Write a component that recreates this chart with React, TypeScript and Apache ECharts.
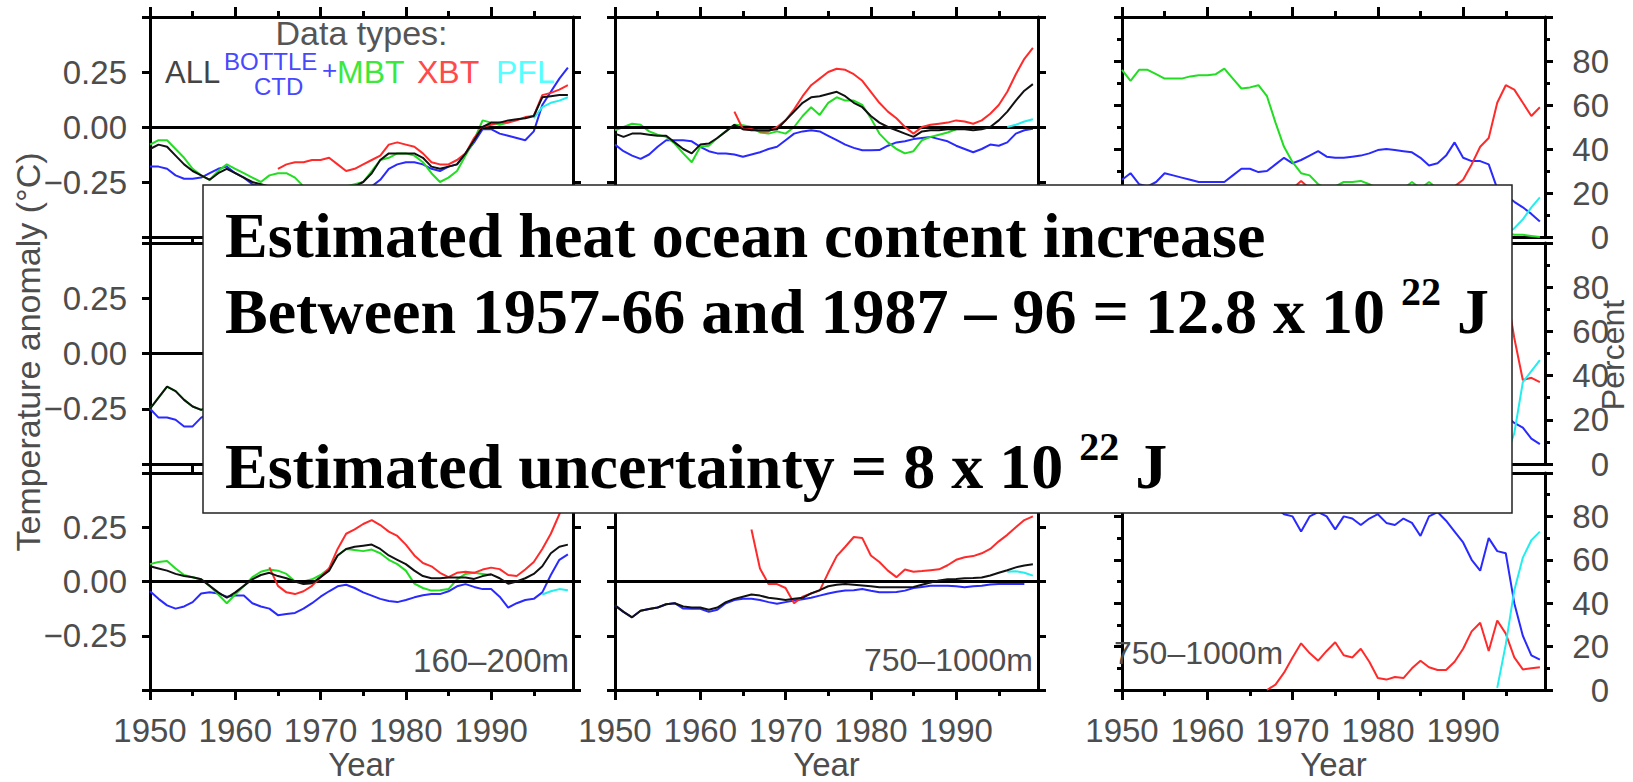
import React, { useEffect, useRef } from 'react';
import * as echarts from 'echarts';

// ---------- axes / tick data ----------
const X_MIN = 1950;
const X_MAX = 1999.6;
const MAJOR_YEARS = [1950, 1960, 1970, 1980, 1990];
const MINOR_YEARS = [1955, 1965, 1975, 1985, 1995];
const TEMP_LABEL_VALUES = [-0.25, 0, 0.25];
const TEMP_LABEL_TEXT = ['\u22120.25', '0.00', '0.25'];
const PCT_LABEL_VALUES = [0, 20, 40, 60, 80];

// ---------- row 1, col 1 (temperature anomaly) ----------
const p11_all = [-0.10, -0.08, -0.09, -0.13, -0.17, -0.20, -0.22, -0.24, -0.21, -0.19,
  -0.21, -0.23, -0.25, -0.26, -0.27, -0.28, -0.27, -0.28, -0.29, -0.29,
  -0.28, -0.28, -0.27, -0.27, -0.27, -0.25, -0.21, -0.15, -0.12, -0.12,
  -0.12, -0.12, -0.14, -0.18, -0.19, -0.18, -0.17, -0.12, -0.06, 0.00,
  0.02, 0.02, 0.03, 0.035, 0.04, 0.05, 0.135, 0.14, 0.145, 0.145];
const p11_bottle = [-0.18, -0.18, -0.19, -0.22, -0.235, -0.235, -0.23, -0.21, -0.19, -0.18,
  -0.21, -0.23, -0.26, -0.27, -0.28, -0.29, -0.29, -0.30, -0.30, -0.31,
  -0.31, -0.31, -0.30, -0.30, -0.29, -0.28, -0.27, -0.24, -0.19, -0.17,
  -0.16, -0.16, -0.17, -0.19, -0.20, -0.18, -0.17, -0.12, -0.07, -0.01,
  -0.01, -0.03, -0.04, -0.05, -0.06, -0.02, 0.10, 0.16, 0.22, 0.27];
const p11_mbt = [-0.08, -0.06, -0.06, -0.10, -0.14, -0.19, -0.22, -0.24, -0.20, -0.17,
  -0.19, -0.21, -0.23, -0.25, -0.22, -0.21, -0.21, -0.23, -0.27, -0.29,
  -0.30, -0.29, -0.28, -0.27, -0.26, -0.25, -0.20, -0.15, -0.14, -0.12,
  -0.12, -0.13, -0.16, -0.21, -0.25, -0.23, -0.20, -0.13, -0.06, 0.03,
  0.02, 0.01, 0.02];
const p11_xbt_start = 1965;
const p11_xbt = [-0.19, -0.17, -0.16, -0.16, -0.15,
  -0.15, -0.14, -0.17, -0.20, -0.19, -0.17, -0.15, -0.13, -0.08, -0.07,
  -0.08, -0.09, -0.12, -0.16, -0.17, -0.17, -0.15, -0.12, -0.05, 0.00,
  0.01, 0.02, 0.02, 0.03, 0.045, 0.05, 0.145, 0.155, 0.17, 0.19];
const p11_pfl_start = 1995;
const p11_pfl = [0.04, 0.09, 0.11, 0.12, 0.135];

// ---------- row 1, col 2 ----------
const p12_all = [-0.03, -0.045, -0.03, -0.03, -0.035, -0.04, -0.04, -0.07, -0.10, -0.12,
  -0.08, -0.075, -0.05, -0.02, 0.01, -0.01, -0.015, -0.015, -0.015, -0.01,
  0.03, 0.07, 0.11, 0.135, 0.14, 0.15, 0.16, 0.14, 0.11, 0.09,
  0.05, 0.02, 0.00, -0.015, -0.03, -0.045, -0.02, -0.015, -0.015, -0.01,
  -0.01, -0.01, -0.015, -0.01, 0.00, 0.03, 0.07, 0.12, 0.165, 0.195];
const p12_bottle = [-0.08, -0.11, -0.13, -0.145, -0.125, -0.09, -0.06, -0.06, -0.06, -0.065,
  -0.09, -0.11, -0.12, -0.12, -0.125, -0.135, -0.125, -0.115, -0.10, -0.09,
  -0.06, -0.03, -0.02, -0.015, -0.02, -0.04, -0.06, -0.08, -0.095, -0.106,
  -0.106, -0.105, -0.085, -0.07, -0.065, -0.055, -0.05, -0.045, -0.055, -0.065,
  -0.085, -0.10, -0.115, -0.10, -0.08, -0.085, -0.07, -0.03, -0.015, -0.008];
const p12_mbt = [-0.015, 0.00, 0.015, 0.01, -0.02, -0.035, -0.045, -0.075, -0.12, -0.16,
  -0.09, -0.085, -0.05, -0.02, 0.01, 0.008, 0.00, -0.025, -0.03, -0.02,
  -0.03, 0.00, 0.05, 0.09, 0.055, 0.11, 0.135, 0.12, 0.12, 0.10,
  0.04, -0.03, -0.07, -0.10, -0.12, -0.11, -0.06, -0.045, -0.035, -0.025,
  -0.01];
const p12_xbt_start = 1964;
const p12_xbt = [0.07, -0.01, -0.01, -0.02, -0.02, 0.00,
  0.03, 0.08, 0.14, 0.19, 0.22, 0.25, 0.265, 0.26, 0.24, 0.21,
  0.16, 0.11, 0.07, 0.04, 0.00, -0.03, 0.00, 0.01, 0.015, 0.02,
  0.03, 0.025, 0.015, 0.03, 0.06, 0.10, 0.16, 0.24, 0.31, 0.36];
const p12_pfl_start = 1996;
const p12_pfl = [0.00, 0.01, 0.025, 0.035];

// ---------- row 1, col 3 (percent of data types) ----------
const p13_bottle = [26, 29, 24, 23, 25, 29, 28, 27, 26, 25,
  25, 25, 25, 28, 31, 31, 29.5, 30, 33, 36,
  33.5, 35, 37, 39, 36.5, 36, 36, 36.5, 37, 38,
  39.5, 40, 39.5, 39, 38.5, 36, 32.5, 33.5, 37, 43,
  36, 34.5, 34.5, 33, 22, 19, 16, 13.5, 10.5, 7];
const p13_mbt = [76, 71, 76, 76, 74, 72, 72, 72, 73, 73.5,
  73.5, 74, 76.5, 72, 67.5, 68, 69, 64, 52, 41,
  34, 29, 28, 24, 22, 23, 25, 25, 25.5, 24,
  22, 21, 21, 22, 25, 22, 25, 22, 20, 16,
  12, 9, 6, 4, 3, 2, 1, 1, 0.5, 0];
const p13_xbt_start = 1966;
const p13_xbt = [1, 5, 12, 18, 22, 25.5, 22, 20, 21, 20,
  19, 20, 21, 20, 22, 22, 21, 20, 19, 20,
  21, 21, 22, 23, 26, 33, 41, 45, 61, 69,
  67, 61, 55, 59];
const p13_pfl_start = 1994;
const p13_pfl = [0, 1, 4, 8, 13.5, 18];

// ---------- row 2, col 1 ----------
const p21_all = [-0.25, -0.20, -0.15, -0.17, -0.21, -0.24, -0.255, -0.24, -0.22, -0.20,
  -0.21, -0.22, -0.20, -0.18, -0.17, -0.16, -0.17, -0.19, -0.20, -0.18,
  -0.14, -0.10, -0.06, -0.04, -0.03, -0.04, -0.06, -0.08, -0.09, -0.10,
  -0.09, -0.08, -0.09, -0.10, -0.09, -0.07, -0.05, -0.03, -0.02, -0.01,
  0.00, 0.01, 0.00, -0.01, 0.01, 0.04, 0.07, 0.09, 0.10, 0.11];
const p21_bottle = [-0.25, -0.29, -0.29, -0.30, -0.33, -0.33, -0.29, -0.27, -0.26, -0.25,
  -0.27, -0.28, -0.26, -0.24, -0.23, -0.22, -0.23, -0.24, -0.24, -0.22,
  -0.19, -0.16, -0.13, -0.11, -0.11, -0.12, -0.13, -0.14, -0.14, -0.13,
  -0.12, -0.12, -0.13, -0.13, -0.12, -0.10, -0.08, -0.06, -0.05, -0.05,
  -0.05, -0.06, -0.07, -0.06, -0.04, -0.01, 0.03, 0.06, 0.08, 0.09];
const p21_mbt = [-0.25, -0.20, -0.15, -0.17, -0.21, -0.24, -0.255, -0.24, -0.21, -0.19,
  -0.20, -0.21, -0.19, -0.17, -0.16, -0.15, -0.16, -0.18, -0.19, -0.17,
  -0.13, -0.09, -0.05, -0.03, -0.02, -0.03, -0.05, -0.07, -0.08, -0.09,
  -0.08, -0.07, -0.08, -0.10, -0.09, -0.07, -0.04, -0.02, -0.01, 0.00,
  0.01];
const p21_xbt_start = 1967;
const p21_xbt = [-0.10, -0.08, -0.06,
  -0.02, 0.02, 0.06, 0.08, 0.09, 0.07, 0.04, 0.02, 0.00, -0.01,
  -0.02, -0.03, -0.04, -0.05, -0.04, -0.02, 0.00, 0.01, 0.02, 0.03,
  0.04, 0.05, 0.04, 0.03, 0.05, 0.09, 0.13, 0.17, 0.20, 0.22];
const p21_pfl_start = 1995;
const p21_pfl = [0.02, 0.04, 0.05, 0.06, 0.07];

// ---------- row 2, col 2 ----------
const p22_all = [-0.08, -0.10, -0.12, -0.11, -0.10, -0.09, -0.08, -0.09, -0.10, -0.11,
  -0.10, -0.09, -0.08, -0.07, -0.07, -0.08, -0.08, -0.07, -0.06, -0.05,
  -0.04, -0.03, -0.02, -0.02, -0.01, 0.00, 0.00, -0.01, -0.02, -0.02,
  -0.03, -0.03, -0.02, -0.02, -0.01, 0.00, 0.01, 0.02, 0.02, 0.03,
  0.03, 0.03, 0.02, 0.03, 0.04, 0.05, 0.07, 0.08, 0.09, 0.10];
const p22_bottle = [-0.09, -0.11, -0.13, -0.12, -0.11, -0.10, -0.09, -0.10, -0.11, -0.12,
  -0.11, -0.10, -0.09, -0.08, -0.08, -0.09, -0.09, -0.08, -0.08, -0.07,
  -0.06, -0.05, -0.05, -0.04, -0.04, -0.03, -0.03, -0.04, -0.04, -0.05,
  -0.05, -0.05, -0.04, -0.04, -0.03, -0.03, -0.02, -0.02, -0.01, -0.01,
  -0.01, -0.02, -0.02, -0.01, 0.00, 0.01, 0.02, 0.03, 0.03, 0.04];
const p22_xbt_start = 1967;
const p22_xbt = [0.10, 0.02, -0.02, 0.00, 0.03, 0.06, 0.08, 0.10, 0.12, 0.13,
  0.12, 0.10, 0.08, 0.06, 0.04, 0.03, 0.04, 0.05, 0.06, 0.06,
  0.07, 0.08, 0.09, 0.10, 0.11, 0.11, 0.12, 0.14, 0.17, 0.20,
  0.23, 0.25, 0.27];
const p22_pfl_start = 1996;
const p22_pfl = [0.04, 0.05, 0.05, 0.04];

// ---------- row 2, col 3 ----------
const p23_bottle = [72, 70, 74, 71, 69, 73, 70, 68, 71, 69,
  66, 68, 65, 63, 60, 58, 55, 50, 44, 40,
  38, 36, 38, 37, 35, 34, 36, 37, 35, 36,
  38, 37, 36, 38, 37, 35, 34, 35, 37, 38,
  35, 33, 34, 32, 28, 22, 18.6, 16.5, 11.5, 9];
const p23_mbt = [28, 30, 26, 29, 31, 27, 30, 32, 29, 31,
  34, 32, 35, 37, 38, 36, 33, 30, 25, 20,
  15, 10, 7, 5, 3, 2];
const p23_xbt_start = 1966;
const p23_xbt = [2, 8, 16, 24, 30, 34, 38, 40, 44, 46,
  47, 46, 48, 48, 47, 49, 50, 50, 52, 53,
  55, 54, 53, 55, 58, 61, 62, 63, 66, 80,
  57, 38, 39, 37];
const p23_pfl_start = 1994;
const p23_pfl = [0, 3, 14, 37, 42, 47];

// ---------- row 3, col 1 (160-200m) ----------
const p31_all = [0.07, 0.06, 0.05, 0.035, 0.025, 0.02, 0.01, -0.02, -0.05, -0.075,
  -0.05, -0.02, 0.01, 0.03, 0.04, 0.025, 0.015, 0.00, -0.012, -0.008,
  0.02, 0.05, 0.12, 0.15, 0.16, 0.165, 0.17, 0.15, 0.12, 0.10,
  0.08, 0.05, 0.025, 0.015, 0.015, 0.018, 0.018, 0.018, 0.012, 0.025,
  0.033, 0.015, -0.01, 0.00, 0.015, 0.035, 0.07, 0.13, 0.16, 0.17];
const p31_bottle = [-0.045, -0.08, -0.11, -0.125, -0.115, -0.095, -0.055, -0.05, -0.055, -0.07,
  -0.065, -0.065, -0.10, -0.115, -0.125, -0.155, -0.15, -0.145, -0.125, -0.10,
  -0.07, -0.045, -0.022, -0.015, -0.03, -0.05, -0.065, -0.08, -0.09, -0.095,
  -0.085, -0.073, -0.063, -0.058, -0.058, -0.045, -0.022, -0.012, -0.025, -0.035,
  -0.035, -0.07, -0.12, -0.10, -0.085, -0.08, -0.05, 0.03, 0.10, 0.125];
const p31_mbt = [0.08, 0.09, 0.095, 0.06, 0.03, 0.02, 0.01, -0.02, -0.06, -0.10,
  -0.06, -0.02, 0.02, 0.045, 0.055, 0.05, 0.035, 0.00, 0.00, 0.01,
  0.03, 0.06, 0.12, 0.15, 0.145, 0.14, 0.147, 0.13, 0.10, 0.08,
  0.05, -0.01, -0.03, -0.042, -0.04, -0.035, 0.01, 0.035, 0.04, 0.035,
  0.03];
const p31_xbt_start = 1964;
const p31_xbt = [0.065, -0.02, -0.05, -0.058, -0.045, -0.02,
  0.02, 0.06, 0.15, 0.22, 0.24, 0.265, 0.283, 0.26, 0.23, 0.21,
  0.17, 0.12, 0.085, 0.07, 0.04, 0.02, 0.04, 0.045, 0.04, 0.055,
  0.064, 0.057, 0.03, 0.025, 0.055, 0.09, 0.15, 0.22, 0.31, 0.40];
const p31_pfl_start = 1996;
const p31_pfl = [-0.06, -0.045, -0.035, -0.04];

// ---------- row 3, col 2 (750-1000m) ----------
const p32_all = [-0.11, -0.14, -0.165, -0.135, -0.127, -0.12, -0.105, -0.10, -0.115, -0.12,
  -0.12, -0.13, -0.12, -0.095, -0.08, -0.07, -0.06, -0.065, -0.075, -0.08,
  -0.085, -0.08, -0.075, -0.055, -0.04, -0.022, -0.015, -0.012, -0.015, -0.018,
  -0.022, -0.027, -0.027, -0.027, -0.027, -0.025, -0.015, -0.005, 0.005, 0.01,
  0.012, 0.015, 0.016, 0.018, 0.028, 0.04, 0.052, 0.065, 0.074, 0.079];
const p32_bottle = [-0.11, -0.14, -0.165, -0.135, -0.127, -0.12, -0.105, -0.10, -0.125, -0.126,
  -0.126, -0.14, -0.13, -0.10, -0.085, -0.08, -0.08, -0.085, -0.095, -0.103,
  -0.095, -0.088, -0.082, -0.075, -0.065, -0.055, -0.047, -0.042, -0.04, -0.035,
  -0.043, -0.05, -0.05, -0.048, -0.042, -0.03, -0.025, -0.02, -0.02, -0.02,
  -0.022, -0.027, -0.022, -0.02, -0.014, -0.012, -0.012, -0.012, -0.012];
const p32_xbt_start = 1966;
const p32_xbt = [0.24, 0.06, -0.012, -0.012,
  -0.03, -0.10, -0.07, -0.055, -0.042, 0.04, 0.117, 0.16, 0.205, 0.20,
  0.12, 0.09, 0.05, 0.02, 0.055, 0.045, 0.048, 0.052, 0.056, 0.075,
  0.10, 0.112, 0.117, 0.13, 0.15, 0.185, 0.215, 0.25, 0.283, 0.30];
const p32_pfl_start = 1996;
const p32_pfl = [0.045, 0.047, 0.04, 0.027];

// ---------- row 3, col 3 (750-1000m, percent) ----------
const p33_bottle = [96, 95, 96, 94, 95, 93, 94, 92, 93, 91,
  92, 90, 91, 89, 90, 88, 89, 86, 84, 81,
  80, 73, 80, 82, 80, 74, 80, 79, 76, 79,
  81, 77, 76, 79, 77, 71, 80, 82, 78, 73,
  68, 60, 55, 70, 64, 63, 40, 25, 16, 14];
const p33_xbt_start = 1967;
const p33_xbt = [0, 2.5, 8,
  15, 21.5, 17, 13.5, 18, 22, 16, 15, 19, 13,
  5.5, 4.8, 6, 5.5, 10, 13.5, 10.5, 9.2, 9.2, 13,
  19, 27, 31, 18, 32, 26, 15, 9.5, 10, 10.5];
const p33_pfl_start = 1994;
const p33_pfl = [1, 21, 46, 61, 69, 73];

// ---------- texts ----------
const DEPTH_LABELS = ['160\u2013200m', '750\u20131000m', '750\u20131000m'];
const BOX_LINE1 = 'Estimated heat ocean content increase';
const BOX_LINE2 = 'Between 1957-66 and 1987 \u2013 96 = 12.8 x 10 ';
const BOX_LINE3 = 'Estimated uncertainty = 8 x 10 ';
const BOX_EXP = '22';

// ---------- style ----------
const COLORS: Record<string, string> = {
  ALL: '#111111',
  BOTTLE: '#2a2aff',
  MBT: '#22dd22',
  XBT: '#ff2a2a',
  PFL: '#22eeee',
};
const SANS = 'Liberation Sans';
const SERIF = 'Liberation Serif';
const LABEL_COLOR = '#4d4d4d';
const COL_LEFT = [150, 615, 1122];
const PANEL_W = 423;
const ROW_TOP = [17, 243, 473];
const ROW_H = [220, 221, 217];

type S = { key: string; start: number; values: number[] };
type Panel = { row: number; col: number; pct: boolean; series: S[] };

const mk = (key: string, values: number[], start = X_MIN): S => ({ key, start, values });

const PANELS: Panel[] = [
  { row: 0, col: 0, pct: false, series: [mk('BOTTLE', p11_bottle), mk('MBT', p11_mbt), mk('XBT', p11_xbt, p11_xbt_start), mk('PFL', p11_pfl, p11_pfl_start), mk('ALL', p11_all)] },
  { row: 0, col: 1, pct: false, series: [mk('BOTTLE', p12_bottle), mk('MBT', p12_mbt), mk('XBT', p12_xbt, p12_xbt_start), mk('PFL', p12_pfl, p12_pfl_start), mk('ALL', p12_all)] },
  { row: 0, col: 2, pct: true, series: [mk('BOTTLE', p13_bottle), mk('MBT', p13_mbt), mk('XBT', p13_xbt, p13_xbt_start), mk('PFL', p13_pfl, p13_pfl_start)] },
  { row: 1, col: 0, pct: false, series: [mk('BOTTLE', p21_bottle), mk('MBT', p21_mbt), mk('XBT', p21_xbt, p21_xbt_start), mk('PFL', p21_pfl, p21_pfl_start), mk('ALL', p21_all)] },
  { row: 1, col: 1, pct: false, series: [mk('BOTTLE', p22_bottle), mk('XBT', p22_xbt, p22_xbt_start), mk('PFL', p22_pfl, p22_pfl_start), mk('ALL', p22_all)] },
  { row: 1, col: 2, pct: true, series: [mk('BOTTLE', p23_bottle), mk('MBT', p23_mbt), mk('XBT', p23_xbt, p23_xbt_start), mk('PFL', p23_pfl, p23_pfl_start)] },
  { row: 2, col: 0, pct: false, series: [mk('BOTTLE', p31_bottle), mk('MBT', p31_mbt), mk('XBT', p31_xbt, p31_xbt_start), mk('PFL', p31_pfl, p31_pfl_start), mk('ALL', p31_all)] },
  { row: 2, col: 1, pct: false, series: [mk('BOTTLE', p32_bottle), mk('XBT', p32_xbt, p32_xbt_start), mk('PFL', p32_pfl, p32_pfl_start), mk('ALL', p32_all)] },
  { row: 2, col: 2, pct: true, series: [mk('BOTTLE', p33_bottle), mk('XBT', p33_xbt, p33_xbt_start), mk('PFL', p33_pfl, p33_pfl_start)] },
];

function buildOption(): any {
  const black = { color: '#000', width: 3 };
  const grid: any[] = [];
  const xAxis: any[] = [];
  const yAxis: any[] = [];
  const series: any[] = [];

  PANELS.forEach((p, g) => {
    grid.push({ left: COL_LEFT[p.col], top: ROW_TOP[p.row], width: PANEL_W, height: ROW_H[p.row], containLabel: false });
    const bottomRow = p.row === 2;
    const xBase = { type: 'value', gridIndex: g, min: X_MIN, max: X_MAX, splitLine: { show: false }, minorSplitLine: { show: false } };
    const labelStyle = { fontFamily: SANS, fontSize: 33, color: LABEL_COLOR };
    (['bottom', 'top'] as const).forEach((pos) => {
      xAxis.push({
        ...xBase, position: pos,
        axisLine: { show: true, onZero: false, lineStyle: black },
        axisTick: { show: true, customValues: MAJOR_YEARS, length: 10, lineStyle: black },
        axisLabel: pos === 'bottom' && bottomRow
          ? { show: true, customValues: MAJOR_YEARS, formatter: (v: number) => String(v), margin: 24, ...labelStyle }
          : { show: false },
      });
      xAxis.push({
        ...xBase, position: pos,
        axisLine: { show: false, onZero: false },
        axisTick: { show: true, customValues: MINOR_YEARS, length: 6, lineStyle: black },
        axisLabel: { show: false },
      });
    });
    const yBase = p.pct
      ? { min: 0, max: 100, interval: 20 }
      : { min: -0.5, max: 0.5, interval: 0.25 };
    (['left', 'right'] as const).forEach((pos) => {
      let axisLabel: any = { show: false };
      if (!p.pct && p.col === 0 && pos === 'left') {
        axisLabel = {
          show: true, margin: 23, ...labelStyle,
          formatter: (v: number) => {
            const i = TEMP_LABEL_VALUES.findIndex((t) => Math.abs(t - v) < 1e-9);
            return i >= 0 ? TEMP_LABEL_TEXT[i] : '';
          },
        };
      }
      if (p.pct && pos === 'right') {
        axisLabel = {
          show: true, margin: 64, align: 'right', ...labelStyle,
          formatter: (v: number) => (PCT_LABEL_VALUES.indexOf(v) >= 0 ? String(v) : ''),
        };
      }
      yAxis.push({
        type: 'value', gridIndex: g, position: pos, ...yBase,
        axisLine: { show: true, onZero: false, lineStyle: black },
        axisTick: { show: true, length: 8, lineStyle: black },
        minorTick: p.pct ? { show: true, splitNumber: 2, length: 5, lineStyle: black } : { show: false },
        splitLine: { show: false }, minorSplitLine: { show: false },
        axisLabel,
      });
    });
    p.series.forEach((s, k) => {
      const item: any = {
        type: 'line', xAxisIndex: 4 * g, yAxisIndex: 2 * g,
        name: s.key, silent: true, symbol: 'none', showSymbol: false,
        data: s.values.map((v, i) => [s.start + i, v]),
        lineStyle: { color: COLORS[s.key], width: 2 },
        itemStyle: { color: COLORS[s.key] },
        z: 3 + k,
      };
      if (!p.pct && k === p.series.length - 1) {
        item.markLine = {
          silent: true, symbol: ['none', 'none'], label: { show: false },
          lineStyle: { color: '#000', width: 3, type: 'solid' },
          data: [{ yAxis: 0 }],
        };
      }
      series.push(item);
    });
  });

  const txt = (text: string, x: number, y: number, size: number, fill: string, align = 'left', extra: any = {}) => ({
    type: 'text', x, y, z: 50, silent: true,
    style: { text, fontFamily: SANS, fontSize: size, fill, align, verticalAlign: 'middle' },
    ...extra,
  });

  const colCenter = (c: number) => COL_LEFT[c] + PANEL_W / 2;
  const elements: any[] = [
    // legend of data types
    txt('Data types:', colCenter(0), 33, 34, '#555', 'center'),
    txt('ALL', 165, 72, 31, '#444'),
    txt('BOTTLE', 224, 61, 24, '#4848ff'),
    txt('CTD', 254, 86, 24, '#4848ff'),
    txt('+', 322, 70, 26, '#4848ff'),
    txt('MBT', 337, 72, 32, '#3de83d'),
    txt('XBT', 417, 72, 32, '#ff4a4a'),
    txt('PFL', 496, 72, 32, '#55ffff'),
    // depth labels
    txt(DEPTH_LABELS[0], 569, 660, 33, LABEL_COLOR, 'right'),
    txt(DEPTH_LABELS[1], 1033, 660, 32, LABEL_COLOR, 'right'),
    txt(DEPTH_LABELS[2], 1114, 653, 32, LABEL_COLOR, 'left'),
    // axis titles
    txt('Year', colCenter(0), 764, 33, LABEL_COLOR, 'center'),
    txt('Year', colCenter(1), 764, 33, LABEL_COLOR, 'center'),
    txt('Year', colCenter(2), 764, 33, LABEL_COLOR, 'center'),
    txt('Temperature anomaly (\u00B0C)', 28, 352, 34, LABEL_COLOR, 'center', { rotation: Math.PI / 2 }),
    txt('Percent', 1613, 355, 32, LABEL_COLOR, 'center', { rotation: Math.PI / 2 }),
    // overlay box
    {
      type: 'rect', z: 100, silent: true,
      shape: { x: 203, y: 185, width: 1309, height: 328 },
      style: { fill: '#ffffff', stroke: '#222', lineWidth: 1.5 },
    },
    {
      type: 'text', x: 225, y: 235.5, z: 101, silent: true,
      style: { text: BOX_LINE1, fontFamily: SERIF, fontWeight: 'bold', fontSize: 64, fill: '#000', align: 'left', verticalAlign: 'middle' },
    },
  ];
  const rich = {
    m: { fontFamily: SERIF, fontWeight: 'bold', fontSize: 64, fill: '#000', lineHeight: 80 },
    s: { fontFamily: SERIF, fontWeight: 'bold', fontSize: 40, fill: '#000', lineHeight: 64, verticalAlign: 'top' },
  };
  [[BOX_LINE2, 311.4], [BOX_LINE3, 466.4]].forEach(([t, y]) => {
    elements.push({
      type: 'text', x: 225, y, z: 101, silent: true,
      style: {
        text: `{m|${t}}{s|${BOX_EXP}}{m| J}`,
        rich, align: 'left', verticalAlign: 'middle',
      },
    });
  });

  return {
    animation: false,
    backgroundColor: '#ffffff',
    grid, xAxis, yAxis, series,
    graphic: { elements },
  };
}

export default function App() {
  const ref = useRef<HTMLDivElement>(null);
  useEffect(() => {
    if (!ref.current) return;
    const chart = echarts.init(ref.current, null, { renderer: 'svg' });
    chart.setOption(buildOption());
    return () => chart.dispose();
  }, []);
  return (
    <div
      ref={ref}
      style={{ position: 'fixed', left: 0, top: 0, width: 1633, height: 782, background: '#fff' }}
    />
  );
}
